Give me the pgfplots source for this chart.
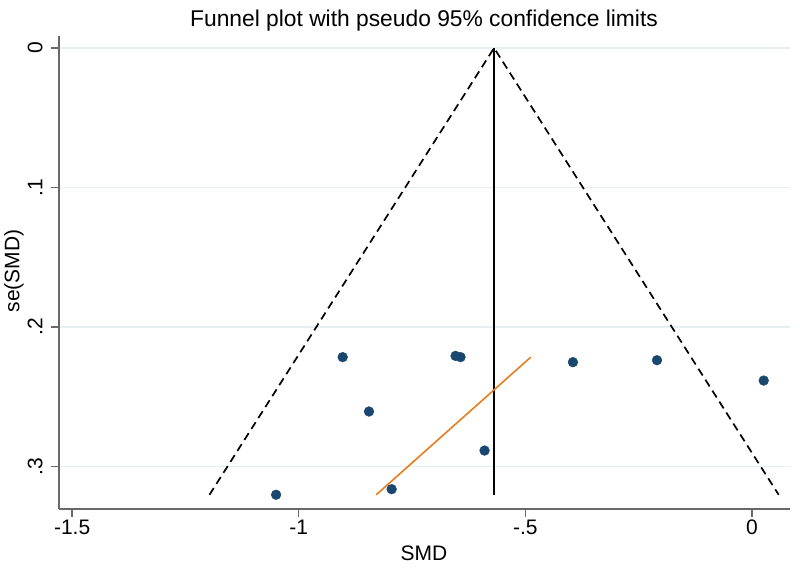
\documentclass[border=0pt]{standalone}
\usepackage{pgfplots}
\pgfplotsset{compat=1.18}
\usepackage{fontspec}
\setmainfont{Liberation Sans}
\definecolor{stnavy}{RGB}{26,71,111}
\definecolor{storange}{RGB}{232,125,30}
\definecolor{stgrid}{RGB}{230,239,241}
\definecolor{staxis}{RGB}{105,105,105}
\begin{document}
\begin{tikzpicture}
\useasboundingbox (0pt,0pt) rectangle (800pt,573pt);
\begin{axis}[
  at={(59pt,64.3pt)}, anchor=south west,
  scale only axis, width=731pt, height=472.7pt,
  xmin=-1.529, xmax=0.084, ymin=-0.0086, ymax=0.3304,
  y dir=reverse,
  axis x line*=bottom, axis y line*=left,
  axis line style={staxis, line width=1.6pt, -},
  xtick={-1.5,-1,-0.5,0}, xticklabels={-1.5,-1,-.5,0},
  ytick={0,0.1,0.2,0.3}, yticklabels={0,.1,.2,.3},
  tick style={staxis, line width=1.3pt},
  tick align=outside, major tick length=8pt,
  ymajorgrids, grid style={stgrid, line width=1.5pt},
  ticklabel style={font=\fontsize{21}{25}\selectfont},
  yticklabel style={rotate=90, anchor=south, xshift=0pt, yshift=5pt},
  clip=false,
]
% pseudo 95% confidence limits
\addplot[black, dash pattern=on 8pt off 5pt, line width=1.7pt] coordinates {(-1.197,0.3204) (-0.569,0) (0.059,0.3204)};
% pooled estimate
\addplot[black, line width=2pt] coordinates {(-0.569,0) (-0.569,0.3204)};
% Egger line
\addplot[storange, line width=1.6pt] coordinates {(-0.829,0.3204) (-0.488,0.2217)};
% studies
\addplot[only marks, mark=*, mark size=4.9pt, stnavy, mark options={draw=stnavy, fill=stnavy}] coordinates {
(-0.903,0.2217)
(-0.845,0.2607)
(-1.050,0.3204)
(-0.795,0.3164)
(-0.654,0.2208)
(-0.643,0.2217)
(-0.590,0.2887)
(-0.395,0.2253)
(-0.2095,0.2239)
(0.026,0.2385)
};
\end{axis}
\node[anchor=base, font=\fontsize{22.8}{27}\selectfont] at (424pt,546pt) {Funnel plot with pseudo 95\% confidence limits};
\node[anchor=base, font=\fontsize{21}{25}\selectfont] at (424pt,13pt) {SMD};
\node[rotate=90, font=\fontsize{21}{25}\selectfont] at (14pt,302pt) {se(SMD)};
\end{tikzpicture}
\end{document}
